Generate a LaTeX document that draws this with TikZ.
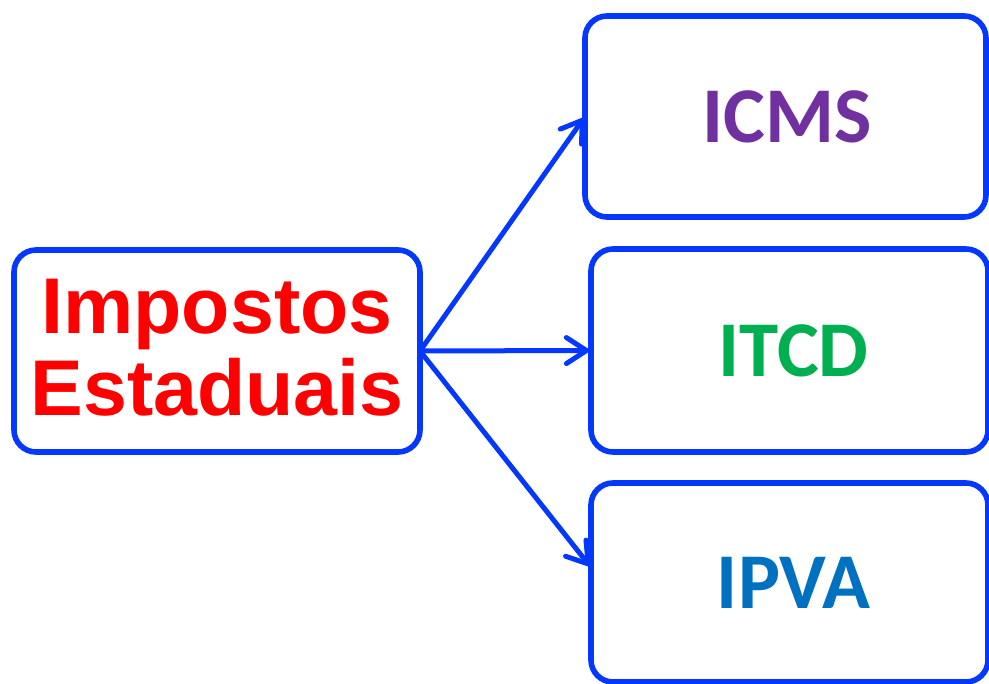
\documentclass[tikz,border=0pt]{standalone}
\usepackage{fontspec}
\usetikzlibrary{arrows.meta}
\newfontfamily\arialbf{Liberation Sans}[BoldFont={Liberation Sans Bold}]
\newfontfamily\calibribf{Carlito}[BoldFont={Carlito Bold}]
\definecolor{boxblue}{RGB}{5,56,255}
\definecolor{txtred}{RGB}{255,0,0}
\definecolor{txtpurple}{HTML}{7030A0}
\definecolor{txtgreen}{HTML}{00B050}
\definecolor{txtblue}{HTML}{0070C0}
\tikzset{
  taxbox/.style={draw=boxblue, line width=5.6pt, rounded corners=22pt, fill=white,
    inner sep=0pt, outer sep=0pt},
  maintext/.style={font=\arialbf\bfseries\fontsize{79}{82}\selectfont, text=txtred, align=center},
  subtext/.style={font=\calibribf\bfseries\fontsize{79}{80}\selectfont},
  link/.style={draw=boxblue, line width=5pt, line cap=round,
    -{Straight Barb[length=20pt, width=26pt, line cap=round]}}
}
\begin{document}
\begin{tikzpicture}[x=1pt, y=-1pt]
  \useasboundingbox (0,0) rectangle (989,684);
  \node[taxbox, maintext, minimum width=406pt, minimum height=202pt, text depth=7pt]
    (main) at (217,351) {Impostos\\Estaduais};
  \node[taxbox, subtext, text=txtpurple, minimum width=401pt, minimum height=201pt]
    (icms) at (785.5,116.5) {\hspace*{4pt}ICMS};
  \node[taxbox, subtext, text=txtgreen, minimum width=397pt, minimum height=203pt]
    (itcd) at (789.5,350.5) {\hspace*{8pt}ITCD};
  \node[taxbox, subtext, text=txtblue, minimum width=397pt, minimum height=199pt]
    (ipva) at (789.5,582.5) {\hspace*{8pt}IPVA};
  \coordinate (hub) at (main.east);
  \draw[link] (hub) -- (icms.west);
  \draw[link] (hub) -- (itcd.west);
  \draw[link] (hub) -- ([yshift=15pt]ipva.west);
\end{tikzpicture}
\end{document}
